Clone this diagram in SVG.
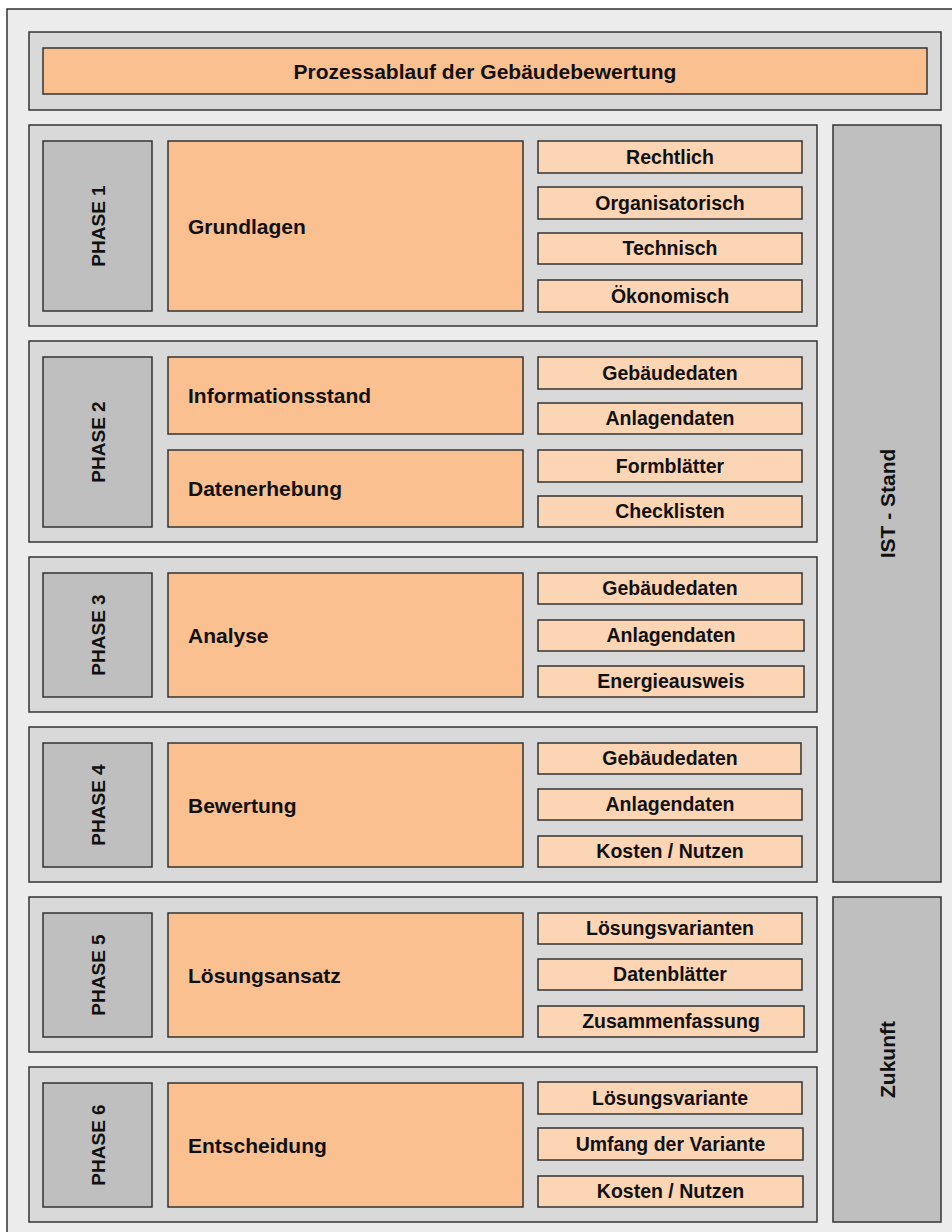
<svg xmlns="http://www.w3.org/2000/svg" width="952" height="1232" viewBox="0 0 952 1232">
<style>
.frame{fill:#ececec;stroke:#333;stroke-width:1.5}
.grp{fill:#d9d9d9;stroke:#333;stroke-width:1.5}
.lbl{fill:#bfbfbf;stroke:#333;stroke-width:1.5}
.main{fill:#fac090;stroke:#333;stroke-width:1.5}
.sub{fill:#fcd5b4;stroke:#333;stroke-width:1.5}
text{font-family:"Liberation Sans",Arial,sans-serif;font-weight:bold;fill:#111}
.t21{font-size:21px}
.ts{font-size:19.5px;text-anchor:middle}
.tp{font-size:19px;text-anchor:middle}
.tv{font-size:21px;text-anchor:middle}
</style>
<rect x="0" y="0" width="952" height="1232" fill="#ffffff"/>
<rect class="frame" x="7" y="9" width="960" height="1240"/>

<g id="title">
<rect class="grp" x="29" y="32" width="912" height="78"/>
<rect class="main" x="43" y="48" width="884" height="46"/>
<text class="t21" x="485" y="79" text-anchor="middle">Prozessablauf der Gebäudebewertung</text>
</g>

<g id="ist">
<rect class="lbl" x="833" y="125" width="108" height="757"/>
<text class="tv" transform="translate(894.5,503.5) rotate(-90)">IST - Stand</text>
</g>
<g id="zukunft">
<rect class="lbl" x="833" y="897" width="108" height="325"/>
<text class="tv" transform="translate(894.5,1059.5) rotate(-90)">Zukunft</text>
</g>

<g id="phase1">
<rect class="grp" x="29" y="125" width="788" height="201"/>
<rect class="lbl" x="43" y="141" width="109" height="170"/>
<text class="tp" transform="translate(104.5,226) rotate(-90)">PHASE 1</text>
<rect class="main" x="168" y="141" width="355" height="170"/>
<text class="t21" x="188" y="233.5">Grundlagen</text>
<rect class="sub" x="538" y="141" width="264" height="32"/>
<text class="ts" x="670" y="163.5">Rechtlich</text>
<rect class="sub" x="538" y="187" width="264" height="32"/>
<text class="ts" x="670" y="209.5">Organisatorisch</text>
<rect class="sub" x="538" y="233" width="264" height="31"/>
<text class="ts" x="670" y="255">Technisch</text>
<rect class="sub" x="538" y="280" width="264" height="32"/>
<text class="ts" x="670" y="302.5">Ökonomisch</text>
</g>

<g id="phase2">
<rect class="grp" x="29" y="341" width="788" height="201"/>
<rect class="lbl" x="43" y="357" width="109" height="170"/>
<text class="tp" transform="translate(104.5,442) rotate(-90)">PHASE 2</text>
<rect class="main" x="168" y="357" width="355" height="77"/>
<text class="t21" x="188" y="403">Informationsstand</text>
<rect class="main" x="168" y="450" width="355" height="77"/>
<text class="t21" x="188" y="496">Datenerhebung</text>
<rect class="sub" x="538" y="357" width="264" height="32"/>
<text class="ts" x="670" y="379.5">Gebäudedaten</text>
<rect class="sub" x="538" y="403" width="264" height="31"/>
<text class="ts" x="670" y="425">Anlagendaten</text>
<rect class="sub" x="538" y="450" width="264" height="32"/>
<text class="ts" x="670" y="472.5">Formblätter</text>
<rect class="sub" x="538" y="496" width="264" height="31"/>
<text class="ts" x="670" y="518">Checklisten</text>
</g>

<g id="phase3">
<rect class="grp" x="29" y="557" width="788" height="155"/>
<rect class="lbl" x="43" y="573" width="109" height="124"/>
<text class="tp" transform="translate(104.5,635) rotate(-90)">PHASE 3</text>
<rect class="main" x="168" y="573" width="355" height="124"/>
<text class="t21" x="188" y="642.5">Analyse</text>
<rect class="sub" x="538" y="573" width="264" height="31"/>
<text class="ts" x="670" y="595">Gebäudedaten</text>
<rect class="sub" x="538" y="620" width="266" height="31"/>
<text class="ts" x="671" y="642">Anlagendaten</text>
<rect class="sub" x="538" y="666" width="266" height="31"/>
<text class="ts" x="671" y="688">Energieausweis</text>
</g>

<g id="phase4">
<rect class="grp" x="29" y="727" width="788" height="155"/>
<rect class="lbl" x="43" y="743" width="109" height="124"/>
<text class="tp" transform="translate(104.5,805) rotate(-90)">PHASE 4</text>
<rect class="main" x="168" y="743" width="355" height="124"/>
<text class="t21" x="188" y="812.5">Bewertung</text>
<rect class="sub" x="538" y="743" width="263" height="31"/>
<text class="ts" x="670" y="765">Gebäudedaten</text>
<rect class="sub" x="538" y="789" width="264" height="31"/>
<text class="ts" x="670" y="811">Anlagendaten</text>
<rect class="sub" x="538" y="836" width="264" height="31"/>
<text class="ts" x="670" y="858">Kosten / Nutzen</text>
</g>

<g id="phase5">
<rect class="grp" x="29" y="897" width="788" height="155"/>
<rect class="lbl" x="43" y="913" width="109" height="124"/>
<text class="tp" transform="translate(104.5,975) rotate(-90)">PHASE 5</text>
<rect class="main" x="168" y="913" width="355" height="124"/>
<text class="t21" x="188" y="982.5">Lösungsansatz</text>
<rect class="sub" x="538" y="913" width="264" height="31"/>
<text class="ts" x="670" y="935">Lösungsvarianten</text>
<rect class="sub" x="538" y="959" width="264" height="31"/>
<text class="ts" x="670" y="981">Datenblätter</text>
<rect class="sub" x="538" y="1006" width="266" height="31"/>
<text class="ts" x="671" y="1028">Zusammenfassung</text>
</g>

<g id="phase6">
<rect class="grp" x="29" y="1067" width="788" height="155"/>
<rect class="lbl" x="43" y="1083" width="109" height="124"/>
<text class="tp" transform="translate(104.5,1145) rotate(-90)">PHASE 6</text>
<rect class="main" x="168" y="1083" width="355" height="124"/>
<text class="t21" x="188" y="1152.5">Entscheidung</text>
<rect class="sub" x="538" y="1082" width="264" height="32"/>
<text class="ts" x="670" y="1104.5">Lösungsvariante</text>
<rect class="sub" x="538" y="1128" width="265" height="32"/>
<text class="ts" x="670.5" y="1150.5">Umfang der Variante</text>
<rect class="sub" x="538" y="1176" width="265" height="31"/>
<text class="ts" x="670.5" y="1198">Kosten / Nutzen</text>
</g>

<g id="connectors"></g>
</svg>
